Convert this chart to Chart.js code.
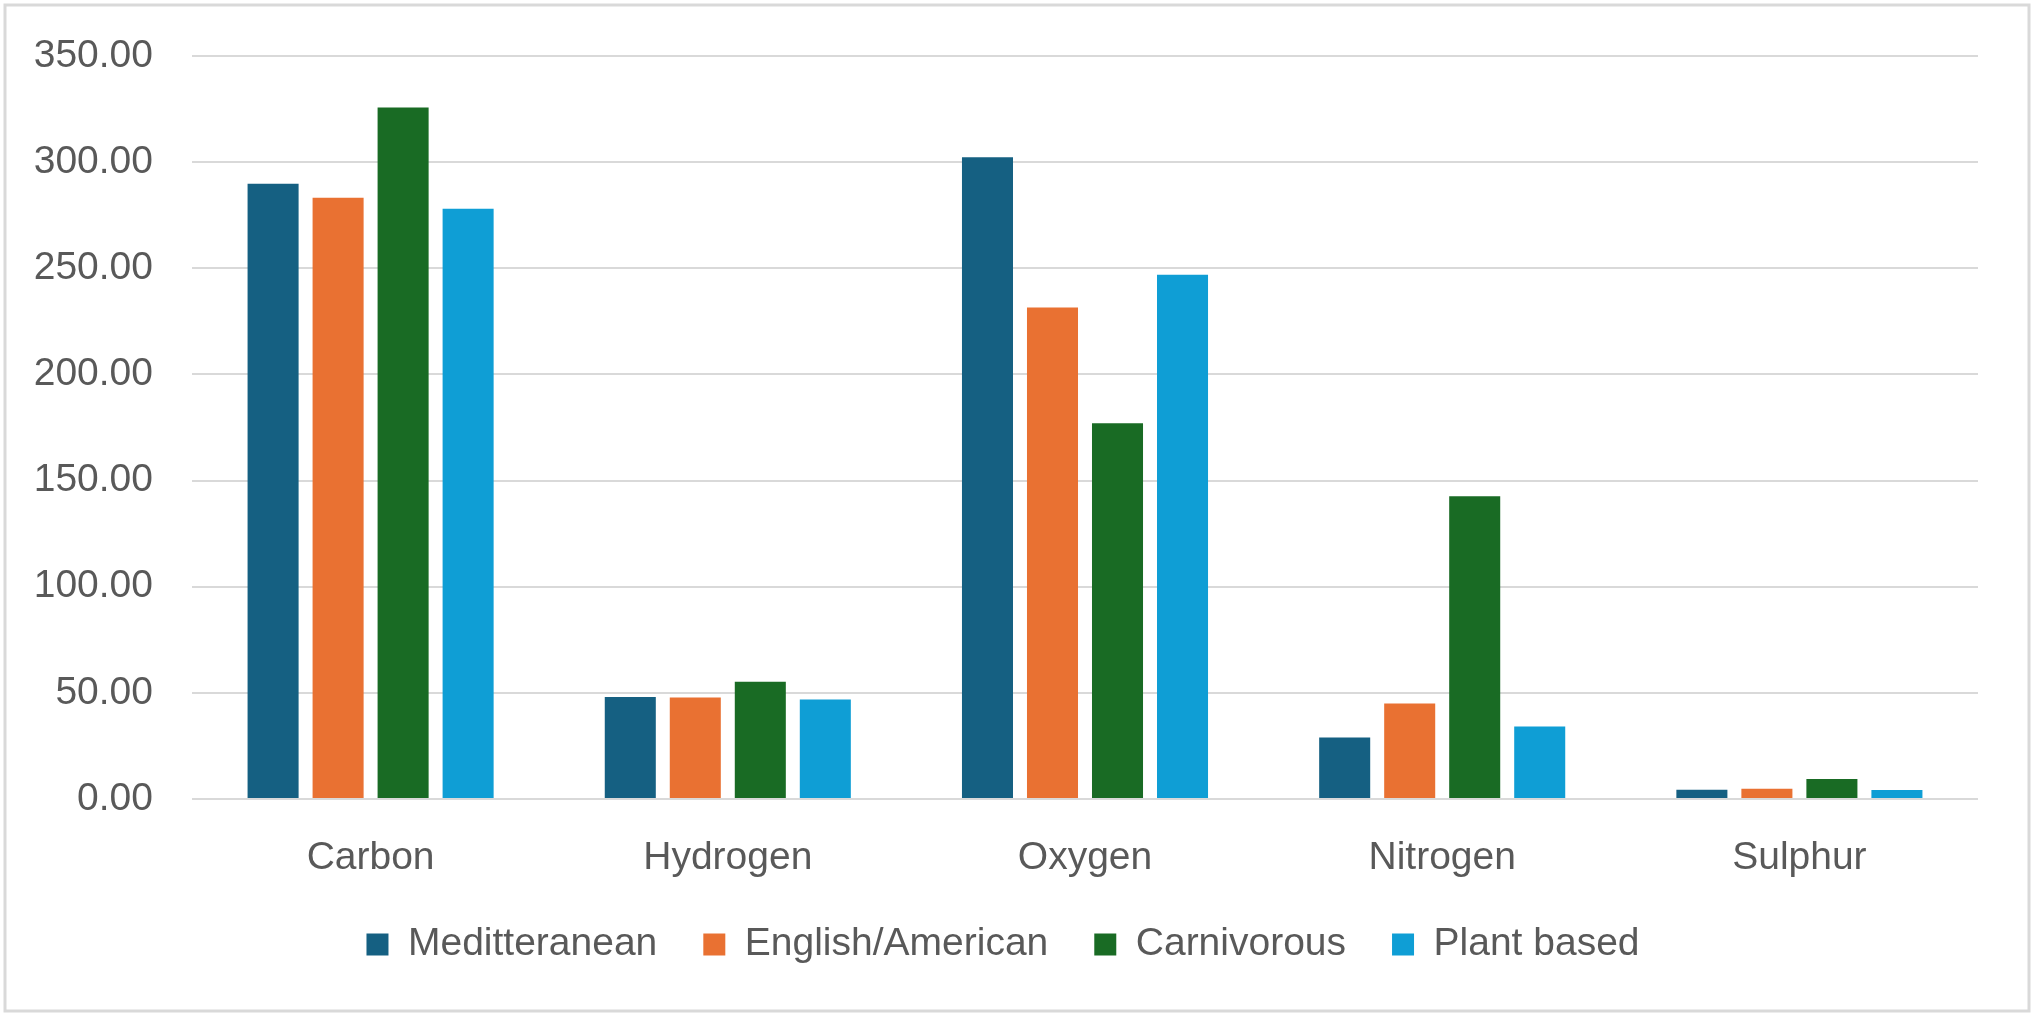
<html>

<head>
    <title>Elements by diet</title>
    <script src="https://cdn.jsdelivr.net/npm/chart.js@4/dist/chart.umd.min.js"></script>
    <style>
        body { margin: 0; background: #ffffff; }
    </style>
</head>

<body>
    <canvas id="elemChart" width="2035" height="1017" style="width: 2035px;height: 1017px;"></canvas>

    <script>
        var elements = ['Carbon', 'Hydrogen', 'Oxygen', 'Nitrogen', 'Sulphur'];
        var mediterranean = [289.8, 48.1, 302.3, 29.0, 4.4];
        var englishAmerican = [283.2, 47.8, 231.5, 45.0, 4.8];
        var carnivorous = [325.7, 55.2, 177.0, 142.6, 9.4];
        var plantBased = [278.1, 46.9, 246.9, 34.2, 4.2];
        var yMax = 350;
        var yStep = 50;

        var font = { family: "'Liberation Sans', Arial, sans-serif", size: 39 };
        var textColor = '#595959';

        // white background + grey frame round the chart area
        const framePlugin = {
            id: 'frame',
            beforeDraw: (chart) => {
                const c = chart.ctx;
                c.save();
                c.fillStyle = '#ffffff';
                c.fillRect(0, 0, chart.width, chart.height);
                c.strokeStyle = '#d9d9d9';
                c.lineWidth = 3;
                c.strokeRect(5, 5, chart.width - 11, chart.height - 11);
                c.restore();
            }
        };

        var elemData = {
            labels: elements,
            datasets: [
                { label: 'Meditteranean', data: mediterranean, backgroundColor: '#156082' },
                { label: 'English/American', data: englishAmerican, backgroundColor: '#E97132' },
                { label: 'Carnivorous', data: carnivorous, backgroundColor: '#196B24' },
                { label: 'Plant based', data: plantBased, backgroundColor: '#0F9ED5' }
            ]
        };

        const elemConfig = {
            type: 'bar',
            data: elemData,
            plugins: [framePlugin],
            options: {
                responsive: false,
                animation: false,
                categoryPercentage: 0.728,
                barPercentage: 0.785,
                layout: {
                    padding: { left: 28, right: 57, top: 56, bottom: 43 }
                },
                scales: {
                    x: {
                        grid: { display: false },
                        border: { display: false },
                        ticks: { color: textColor, font: font, padding: 28 },
                        afterFit: (scale) => { scale.height = 80; }
                    },
                    y: {
                        min: 0,
                        max: yMax,
                        // invisible tick marks give the gap between labels and plot
                        grid: { color: '#d9d9d9', lineWidth: 2, drawTicks: true, tickLength: 34, tickColor: 'rgba(0,0,0,0)' },
                        border: { display: false },
                        ticks: {
                            stepSize: yStep,
                            color: textColor,
                            font: font,
                            padding: 5,
                            callback: (v) => Number(v).toFixed(2)
                        },
                        afterFit: (scale) => { scale.width = 164; }
                    }
                },
                plugins: {
                    tooltip: { enabled: false },
                    legend: {
                        position: 'bottom',
                        labels: {
                            color: textColor,
                            font: font,
                            boxWidth: 22,
                            boxHeight: 22,
                            padding: 46
                        }
                    }
                }
            }
        };

        var elemCtx = document.getElementById("elemChart").getContext("2d");
        var elemChart = new Chart(elemCtx, elemConfig);
    </script>
</body>

</html>
